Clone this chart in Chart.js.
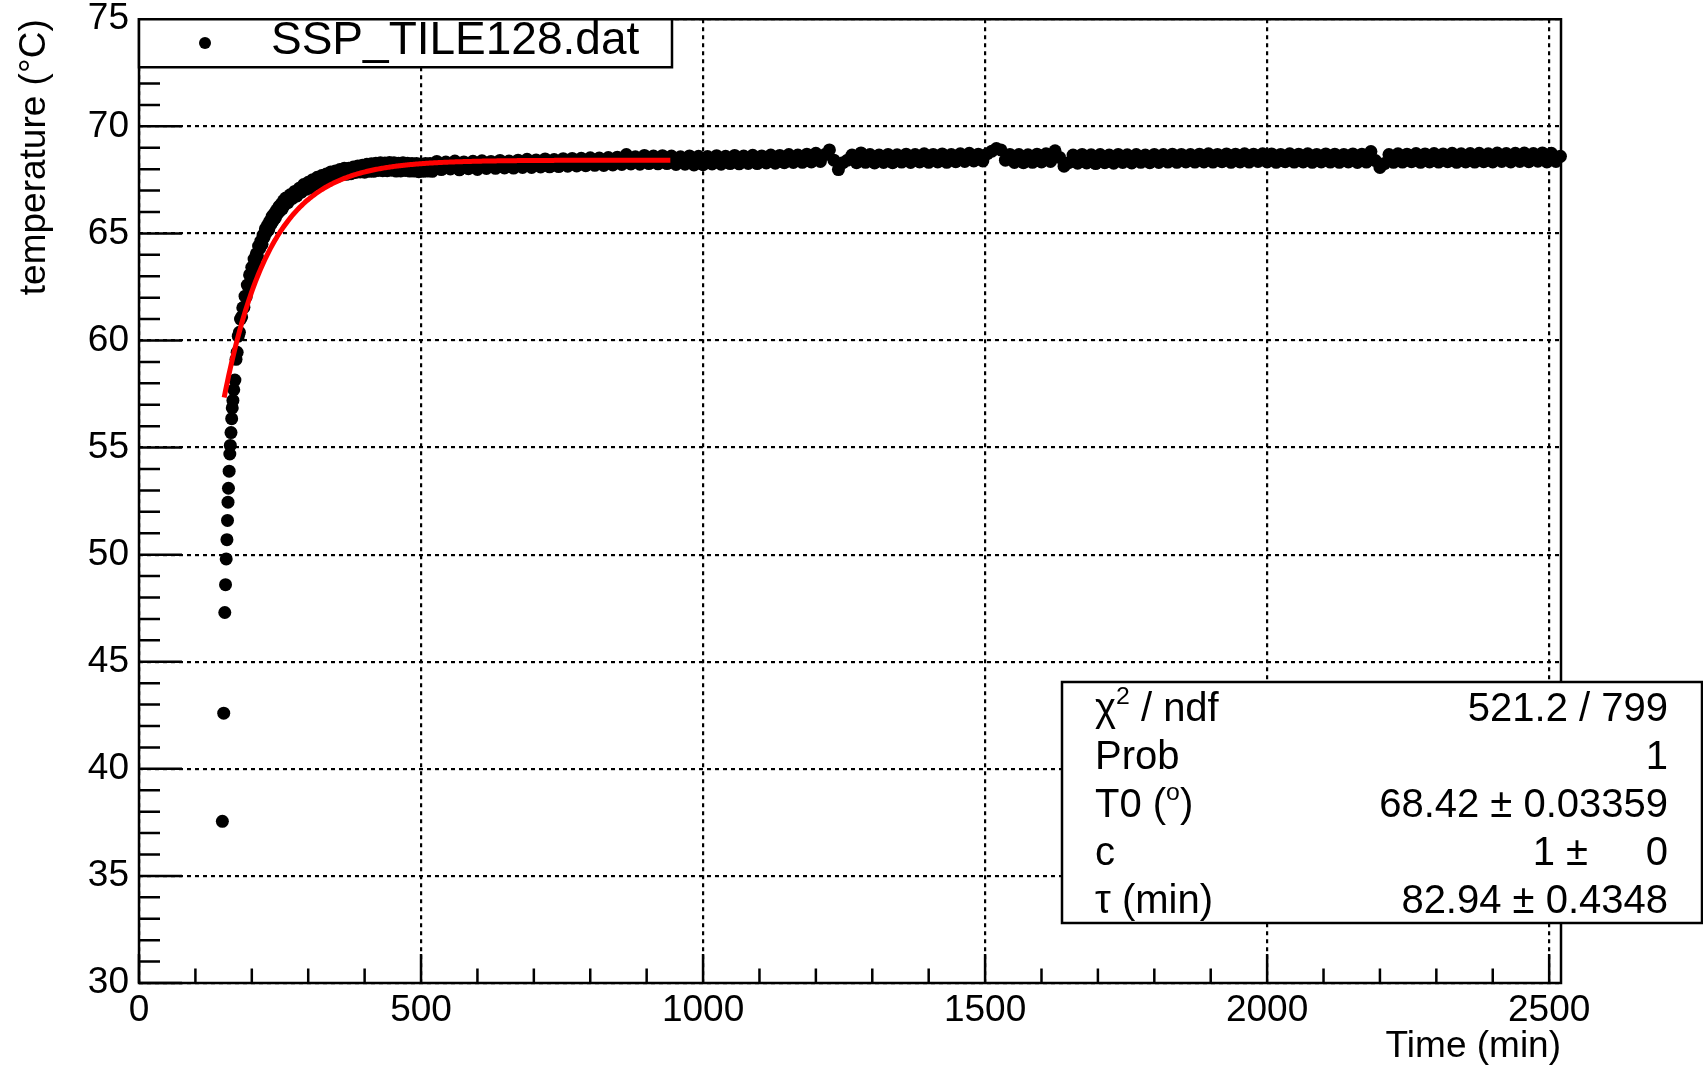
<!DOCTYPE html>
<html>
<head>
<meta charset="utf-8">
<title>SSP_TILE128 temperature</title>
<script src="https://cdn.jsdelivr.net/npm/chart.js@4.4.1/dist/chart.umd.min.js"></script>
<style>
    html, body { margin: 0; padding: 0; background: #fff; }
    canvas { display: block; }
</style>
</head>
<body>
<canvas id="tempChart" width="1703" height="1069"></canvas>
<script>
// first readings while the tile heats up (min, degC)
const riseTimes = [147.8, 150.2, 152.1, 153.4, 154.6, 155.9, 156.9, 157.8, 158.6, 159.8, 161.0, 161.9, 163.1, 164.3, 165.3, 166.5];
const riseTemps = [37.55, 42.6, 47.3, 48.6, 49.8, 50.7, 51.6, 52.45, 53.1, 53.9, 54.7, 55.1, 55.7, 56.35, 56.85, 57.2];

// knee of the curve, one value every 2 min from 168
const kneeStart = 168, kneeStep = 2;
const kneeTemps = [
    57.7, 58.15, 59.12, 59.45, 60.2, 60.38, 61.0, 61.1, 61.53, 61.55,
    62.07, 62.04, 62.59, 62.58, 63.06, 63.0, 63.42, 63.34, 63.8, 63.68,
    64.05, 63.95, 64.41, 64.3, 64.64, 64.49, 64.92, 64.83, 65.21, 65.05,
    65.39, 65.18, 65.57, 65.43, 65.8, 65.6, 65.93, 65.74, 66.09, 65.93,
    66.25, 66.06, 66.37, 66.15, 66.52, 66.33, 66.65
];

// approach to equilibrium, every 4 min from 264
const approachStart = 264, approachStep = 4;
const approachTemps = [
    66.44, 66.8, 66.63, 66.96, 66.75, 67.11, 66.93, 67.28, 67.06, 67.39,
    67.12, 67.51, 67.29, 67.62, 67.4, 67.7, 67.44, 67.77, 67.56, 67.87,
    67.61, 67.91, 67.66, 67.98, 67.74, 68.04, 67.76, 68.04, 67.79, 68.1,
    67.85, 68.15, 67.87, 68.18, 67.86, 68.23, 67.9, 68.25, 67.9, 68.28,
    67.94, 68.3, 67.93, 68.29, 67.93, 68.31, 67.95, 68.3, 67.91, 68.28,
    67.92, 68.3, 67.94, 68.28, 67.91, 68.27, 67.91, 68.27, 67.88, 68.24,
    67.9, 68.27, 67.91, 68.26, 67.9
];

// plateau, every 8 min from 528
const plateauStart = 528, plateauStep = 8;
const plateauTemps = [
    68.36, 67.98, 68.33, 68.01, 68.38, 67.97, 68.34, 68.02, 68.37, 67.99,
    68.39, 68.03, 68.36, 68.04, 68.41, 68.06, 68.38, 68.05, 68.42, 68.08,
    68.46, 68.08, 68.43, 68.10, 68.48, 68.11, 68.45, 68.12, 68.49, 68.14,
    68.50, 68.15, 68.51, 68.16, 68.53, 68.18, 68.52, 68.17, 68.54, 68.20,
    68.56, 68.22, 68.68, 68.24, 68.58, 68.23, 68.64, 68.26, 68.61, 68.25,
    68.63, 68.26, 68.61, 68.22, 68.58, 68.23, 68.62, 68.20, 68.60, 68.21,
    68.59, 68.24, 68.63, 68.23, 68.60, 68.26, 68.64, 68.25, 68.61, 68.27,
    68.65, 68.26, 68.62, 68.29, 68.66, 68.28, 68.64, 68.30, 68.68, 68.31,
    68.66, 68.32, 68.70, 68.34, 68.74, 68.36, 68.68, 68.90, 68.42, 67.98,
    68.30, 68.42, 68.66, 68.30, 68.76, 68.32, 68.68, 68.29, 68.66, 68.31,
    68.69, 68.30, 68.67, 68.33, 68.70, 68.31, 68.68, 68.34, 68.72, 68.32,
    68.69, 68.34, 68.71, 68.32, 68.68, 68.35, 68.72, 68.36, 68.74, 68.38,
    68.70, 68.38, 68.72, 68.84, 68.96, 68.90, 68.42, 68.69, 68.31, 68.68,
    68.30, 68.67, 68.32, 68.70, 68.34, 68.72, 68.36, 68.86, 68.55, 68.14,
    68.30, 68.66, 68.28, 68.69, 68.29, 68.67, 68.26, 68.68, 68.30, 68.66,
    68.28, 68.69, 68.31, 68.67, 68.29, 68.68, 68.32, 68.66, 68.30, 68.69,
    68.31, 68.68, 68.33, 68.70, 68.32, 68.69, 68.34, 68.68, 68.33, 68.70,
    68.34, 68.72, 68.33, 68.69, 68.35, 68.71, 68.32, 68.70, 68.34, 68.72,
    68.33, 68.70, 68.36, 68.72, 68.34, 68.71, 68.32, 68.69, 68.35, 68.72,
    68.33, 68.70, 68.34, 68.72, 68.32, 68.69, 68.34, 68.71, 68.33, 68.70,
    68.32, 68.69, 68.34, 68.71, 68.31, 68.70, 68.33, 68.82, 68.40, 68.08,
    68.26, 68.68, 68.32, 68.72, 68.33, 68.70, 68.35, 68.73, 68.32, 68.71,
    68.34, 68.73, 68.33, 68.71, 68.35, 68.74, 68.32, 68.72, 68.34, 68.73,
    68.33, 68.74, 68.35, 68.72, 68.34, 68.75, 68.36, 68.73, 68.34, 68.74,
    68.36, 68.75, 68.35, 68.73, 68.37, 68.76, 68.34, 68.74, 68.36, 68.60
];

// fit T(t) = T0 * (1 - c * exp(-t / tau)) and its statistics
const fitT0 = 68.42, fitT0Err = 0.03359;
const fitC = 1, fitCErr = 0;
const fitTau = 82.94, fitTauErr = 0.4348;
const fitChi2 = 521.2, fitNdf = 799, fitProb = 1;
const fitFrom = 151, fitTo = 942;

const xMax = 2521, xMinor = 100;
const xTickValues = [0, 500, 1000, 1500, 2000, 2500];
const yMin = 30, yMax = 75, yMajor = 5, yMinor = 1;

const FONT = '"Liberation Sans", Arial, Helvetica, sans-serif';
const font = size => size + 'px ' + FONT;

function evenly(start, step, temps) {
    return temps.map((T, i) => ({ x: start + step * i, y: T }));
}

const dataPoints = riseTimes
    .map((t, i) => ({ x: t, y: riseTemps[i] }))
    .concat(evenly(kneeStart, kneeStep, kneeTemps))
    .concat(evenly(approachStart, approachStep, approachTemps))
    .concat(evenly(plateauStart, plateauStep, plateauTemps));

const fitPoints = [];
for (let t = fitFrom; t < fitTo; t += 2) {
    fitPoints.push({ x: t, y: fitT0 * (1 - fitC * Math.exp(-t / fitTau)) });
}
fitPoints.push({ x: fitTo, y: fitT0 * (1 - fitC * Math.exp(-fitTo / fitTau)) });

// text with ROOT-style superscripts: parts = [[text, isSup], ...]
function drawParts(ctx, parts, x, y, size) {
    let cx = x;
    parts.forEach(([txt, sup]) => {
        ctx.font = font(sup ? size * 0.62 : size);
        ctx.fillText(txt, cx, sup ? y - size * 0.42 : y);
        cx += ctx.measureText(txt).width;
    });
}

const rootFrame = {
    id: 'rootFrame',
    afterDatasetsDraw(chart) {
        const { ctx, chartArea: a } = chart;
        const x = chart.scales.x, y = chart.scales.y;
        ctx.save();
        ctx.strokeStyle = '#000';
        ctx.lineWidth = 2.5;
        ctx.beginPath();
        for (let v = 0; v <= xMax; v += xMinor) {
            const px = x.getPixelForValue(v);
            const len = xTickValues.includes(v) ? 29 : 14.5;
            ctx.moveTo(px, a.bottom);
            ctx.lineTo(px, a.bottom - len);
        }
        for (let v = yMin; v <= yMax; v += yMinor) {
            const py = y.getPixelForValue(v);
            const len = v % yMajor === 0 ? 43 : 21;
            ctx.moveTo(a.left, py);
            ctx.lineTo(a.left + len, py);
        }
        ctx.stroke();
        ctx.strokeRect(a.left, a.top, a.right - a.left, a.bottom - a.top);
        ctx.restore();
    },
    afterDraw(chart) {
        const { ctx, chartArea: a } = chart;
        ctx.save();
        ctx.lineWidth = 2.5;
        ctx.strokeStyle = '#000';

        // legend
        ctx.fillStyle = '#fff';
        ctx.fillRect(a.left, a.top, 533, 48);
        ctx.strokeRect(a.left, a.top, 533, 48);
        ctx.fillStyle = '#000';
        ctx.beginPath();
        ctx.arc(205, 43, 6, 0, Math.PI * 2);
        ctx.fill();
        ctx.font = font(46);
        ctx.textBaseline = 'alphabetic';
        ctx.textAlign = 'left';
        ctx.fillText('SSP_TILE128.dat', 271, 54);

        // fit statistics box
        const bx = 1062, by = 682, bw = 640, bh = 241;
        ctx.fillStyle = '#fff';
        ctx.fillRect(bx, by, bw, bh);
        ctx.strokeRect(bx, by, bw, bh);
        ctx.fillStyle = '#000';
        const size = 40, rowH = bh / 5, lx = 1095, rx = 1668;
        const base = i => by + rowH * (i + 0.5) + size * 0.36;
        const names = [
            [['\u03c7'], ['2', true], [' / ndf']],
            [['Prob']],
            [['T0 ('], ['o', true], [')']],
            [['c']],
            [['\u03c4 (min)']]
        ];
        names.forEach((parts, i) => drawParts(ctx, parts, lx, base(i), size));
        ctx.font = font(size);
        ctx.textAlign = 'right';
        ctx.fillText(fitChi2.toFixed(1) + ' / ' + fitNdf, rx, base(0));
        ctx.fillText(String(fitProb), rx, base(1));
        ctx.fillText(fitT0.toFixed(2) + ' \u00b1 ' + fitT0Err, rx, base(2));
        ctx.fillText(fitC + ' \u00b1', 1588, base(3));
        ctx.fillText(String(fitCErr), rx, base(3));
        ctx.fillText(fitTau.toFixed(2) + ' \u00b1 ' + fitTauErr, rx, base(4));
        ctx.restore();
    }
};

const gridStyle = { color: '#000', lineWidth: 2.2, drawTicks: false, borderDash: [4, 4] };
const tickFont = { family: FONT, size: 37, lineHeight: 0.5 };

new Chart(document.getElementById('tempChart'), {
    type: 'scatter',
    data: {
        datasets: [
            {
                label: 'fit',
                data: fitPoints,
                showLine: true,
                borderColor: '#ff0000',
                borderWidth: 5,
                pointRadius: 0,
                order: 0
            },
            {
                label: 'SSP_TILE128.dat',
                data: dataPoints,
                pointRadius: 6.5,
                pointBackgroundColor: '#000',
                pointBorderWidth: 0,
                clip: false,
                order: 1
            }
        ]
    },
    options: {
        responsive: false,
        animation: false,
        devicePixelRatio: 1,
        layout: { padding: { left: 0, right: 142, top: 18.5, bottom: 0 } },
        plugins: { legend: { display: false }, tooltip: { enabled: false } },
        scales: {
            x: {
                type: 'linear',
                min: 0,
                max: xMax,
                afterFit: s => { s.height = 86; },
                afterBuildTicks: s => { s.ticks = xTickValues.map(v => ({ value: v })); },
                grid: gridStyle,
                border: { display: false, dash: [4, 4] },
                ticks: {
                    autoSkip: false,
                    maxRotation: 0,
                    padding: 19,
                    color: '#000',
                    font: tickFont,
                    callback: v => String(v)
                },
                title: {
                    display: true,
                    text: 'Time (min)',
                    align: 'end',
                    color: '#000',
                    font: { family: FONT, size: 37 },
                    padding: { top: 0, bottom: 0 }
                }
            },
            y: {
                type: 'linear',
                min: yMin,
                max: yMax,
                afterFit: s => { s.width = 139; },
                grid: gridStyle,
                border: { display: false, dash: [4, 4] },
                ticks: {
                    stepSize: yMajor,
                    autoSkip: false,
                    padding: 10,
                    color: '#000',
                    font: tickFont,
                    callback: v => String(v)
                },
                title: {
                    display: true,
                    text: 'temperature (\u00b0C)',
                    align: 'end',
                    color: '#000',
                    font: { family: FONT, size: 37 },
                    padding: { top: 13, bottom: 0 }
                }
            }
        }
    },
    plugins: [rootFrame]
});
</script>
</body>
</html>
